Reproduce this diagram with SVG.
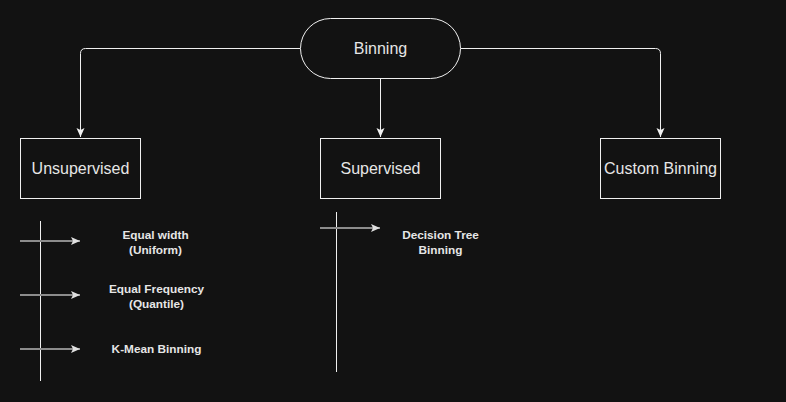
<svg xmlns="http://www.w3.org/2000/svg" width="786" height="402" viewBox="0 0 786 402">
<defs>
<style>
.node{fill:#121212;stroke:#f0f0f0;stroke-width:1}
.lbl{font-family:"Liberation Sans",Arial,sans-serif;font-size:16px;fill:#e6e6e6;text-anchor:middle}
.sm{font-family:"Liberation Sans",Arial,sans-serif;font-size:11.8px;font-weight:bold;fill:#e6e6e6;text-anchor:middle}
.edge{fill:none;stroke:#f0f0f0;stroke-width:1}
.gray{fill:none;stroke:#8c8c8c;stroke-width:2}
.vline{stroke:#f0f0f0;stroke-width:1}
</style>
<marker id="ah" markerWidth="10" markerHeight="10" viewBox="0 0 10 10" refX="9" refY="5" orient="auto" markerUnits="userSpaceOnUse">
<path d="M0,1 L9,5 L0,9 L2,5 Z" fill="#f0f0f0"/>
</marker>
<marker id="ahg" markerWidth="10" markerHeight="10" viewBox="0 0 10 10" refX="9" refY="5" orient="auto" markerUnits="userSpaceOnUse">
<path d="M0,1 L9,5 L0,9 L2,5 Z" fill="#e0e0e0"/>
</marker>
</defs>
<rect width="786" height="402" fill="#121212"/>
<g id="connectors">
<path class="edge" d="M300.5,48.5 H85.5 Q80.5,48.5 80.5,53.5 V137" marker-end="url(#ah)"/>
<path class="edge" d="M380.5,78.5 V137" marker-end="url(#ah)"/>
<path class="edge" d="M460.5,48.5 H655.5 Q660.5,48.5 660.5,53.5 V137" marker-end="url(#ah)"/>
<line class="vline" x1="40.5" y1="221" x2="40.5" y2="381"/>
<line class="vline" x1="336.5" y1="212" x2="336.5" y2="372"/>
<path class="gray" d="M20,241 H80" marker-end="url(#ahg)"/>
<path class="gray" d="M20,295 H80" marker-end="url(#ahg)"/>
<path class="gray" d="M20,349 H80" marker-end="url(#ahg)"/>
<path class="gray" d="M320,228 H380" marker-end="url(#ahg)"/>
</g>
<g id="binning">
<rect class="node" x="300.5" y="18.5" width="160" height="60" rx="30" ry="30"/>
<text class="lbl" x="380.5" y="54">Binning</text>
</g>
<g id="unsupervised">
<rect class="node" x="20.5" y="138.5" width="120" height="60"/>
<text class="lbl" x="80.5" y="174">Unsupervised</text>
</g>
<g id="supervised">
<rect class="node" x="320.5" y="138.5" width="120" height="60"/>
<text class="lbl" x="380.5" y="174">Supervised</text>
</g>
<g id="custom">
<rect class="node" x="600.5" y="138.5" width="120" height="60"/>
<text class="lbl" x="660.5" y="174">Custom Binning</text>
</g>
<g id="equal-width">
<text class="sm" x="155.5" y="239">Equal width</text>
<text class="sm" x="155.5" y="254">(Uniform)</text>
</g>
<g id="equal-frequency">
<text class="sm" x="156.5" y="293">Equal Frequency</text>
<text class="sm" x="156.5" y="308">(Quantile)</text>
</g>
<g id="kmean">
<text class="sm" x="156.5" y="353">K-Mean Binning</text>
</g>
<g id="decision-tree">
<text class="sm" x="440.5" y="239">Decision Tree</text>
<text class="sm" x="440.5" y="254">Binning</text>
</g>
</svg>
